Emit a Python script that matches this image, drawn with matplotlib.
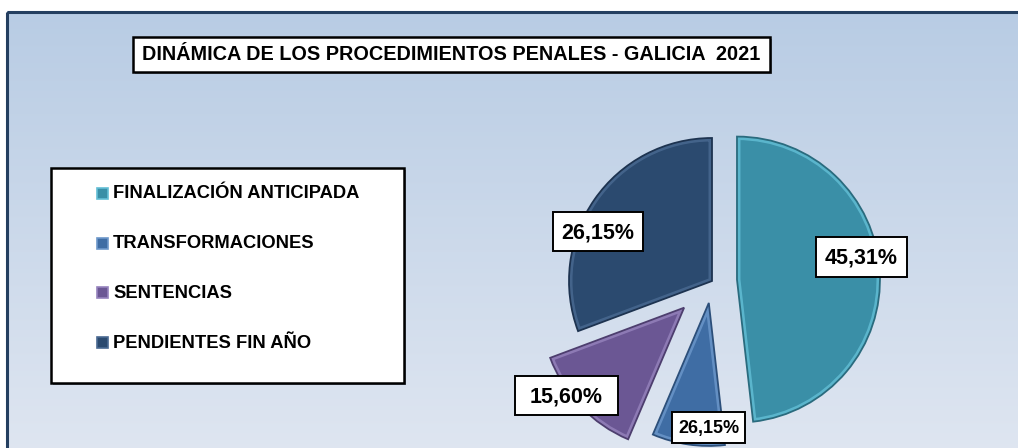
import numpy as np
import matplotlib
matplotlib.use('Agg')
import matplotlib.pyplot as plt
from matplotlib.patches import Rectangle, Wedge

plt.rcParams['font.family'] = ['Liberation Sans', 'DejaVu Sans']

# datos
titulo = 'DINÁMICA DE LOS PROCEDIMIENTOS PENALES - GALICIA  2021'
categorias = ['FINALIZACIÓN ANTICIPADA', 'TRANSFORMACIONES', 'SENTENCIAS', 'PENDIENTES FIN AÑO']
valores = [48.2, 8.2, 12.9, 30.7]          # tamaño de los sectores
etiquetas = ['45,31%', '26,15%', '15,60%', '26,15%']  # texto tal como aparece
colores = ['#3A8FA7', '#3F6DA4', '#6B5794', '#2B4A6F']
bordes = ['#2A6B7E', '#2C4F7A', '#4D3E6E', '#1D3350']
brillos = ['#63BFD6', '#6D98CB', '#9683BD', '#4A6A92']
separacion = [0.175, 0.155, 0.27, 0.0]

W, H = 1018, 448
fig = plt.figure(figsize=(W / 100, H / 100), dpi=100)
fig.patch.set_facecolor('white')

# fondo con degradado
fondo = fig.add_axes([0, 0, 1, 1])
fondo.set_xlim(0, W)
fondo.set_ylim(H, 0)
fondo.axis('off')
grad = np.linspace(0, 1, 256).reshape(-1, 1)
arriba = np.array([0.722, 0.800, 0.894])
abajo = np.array([0.875, 0.902, 0.945])
img = arriba + (abajo - arriba) * grad[:, :, None]
fondo.imshow(img, extent=(7, W + 10, H + 10, 12), aspect='auto', zorder=0)
fondo.add_patch(Rectangle((7, 12), W + 10, H + 10, fill=False, edgecolor='#243F60', lw=2.2, zorder=1))

# titulo
fondo.add_patch(Rectangle((135, 39), 637, 35, facecolor='#7f8a99', edgecolor='none', zorder=2))
fondo.add_patch(Rectangle((133, 37), 637, 35, facecolor='white', edgecolor='black', lw=1.8, zorder=3))
fondo.text(451, 55, titulo, ha='center', va='center', fontsize=14.3, fontweight='bold', color='black', zorder=4)

# leyenda
fondo.add_patch(Rectangle((53, 170), 353, 215, facecolor='#7f8a99', edgecolor='none', zorder=2))
fondo.add_patch(Rectangle((51, 168), 353, 215, facecolor='white', edgecolor='black', lw=1.8, zorder=3))
ys = [194, 244, 293, 343]
for cat, col, bri, y in zip(categorias, colores, brillos, ys):
    fondo.add_patch(Rectangle((97, y - 5.5), 11, 11, facecolor=col, edgecolor=bri, lw=1.2, zorder=4))
    fondo.text(113, y, cat, ha='left', va='center', fontsize=13.2, fontweight='bold', color='black', zorder=4)

# tarta
cx, cy, rad = 712, 281, 143
lado = 200
ax = fig.add_axes([(cx - lado) / W, (H - cy - lado) / H, 2 * lado / W, 2 * lado / H])
wedges, _ = ax.pie(valores, colors=colores, startangle=90, counterclock=False,
                   explode=separacion, radius=1.0,
                   wedgeprops=dict(linewidth=0))
for w, b, bri in zip(wedges, bordes, brillos):
    w.set_clip_on(False)
    # borde claro interior (efecto bisel)
    aro = Wedge(w.center, w.r, w.theta1, w.theta2, facecolor='none', edgecolor=bri, lw=5, alpha=0.8)
    ax.add_patch(aro)
    aro.set_clip_path(w)
    linea = Wedge(w.center, w.r, w.theta1, w.theta2, facecolor='none', edgecolor=b, lw=1.3)
    linea.set_clip_on(False)
    ax.add_patch(linea)
ax.set_xlim(-lado / rad, lado / rad)
ax.set_ylim(-lado / rad, lado / rad)
ax.axis('off')
ax.patch.set_alpha(0)

# etiquetas de datos (capa superior)
capa = fig.add_axes([0, 0, 1, 1])
capa.set_xlim(0, W)
capa.set_ylim(H, 0)
capa.axis('off')
capa.patch.set_alpha(0)
cajas = [(816, 237, 91, 40), (672, 412, 73, 31), (515, 376, 103, 39), (553, 212, 90, 39)]
tam_etq = [15.5, 13, 15.5, 15.5]
for txt, (x, y, w, h), fs in zip(etiquetas, cajas, tam_etq):
    capa.add_patch(Rectangle((x, y), w, h, facecolor='white', edgecolor='black', lw=1.4, zorder=5))
    capa.text(x + w / 2, y + h / 2 + 1, txt, ha='center', va='center', fontsize=fs, fontweight='bold',
              color='black', zorder=6)

fig.savefig('out.png', dpi=100)
